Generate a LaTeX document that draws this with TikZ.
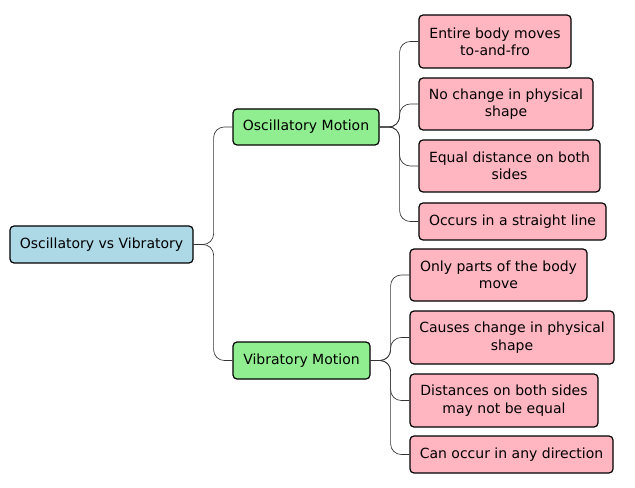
\documentclass[tikz,border=0pt]{standalone}
\usepackage{fontspec}
\setmainfont{DejaVu Sans}
\usepackage{tikz}
\usetikzlibrary{calc}
\definecolor{rootblue}{HTML}{ADD8E6}
\definecolor{midgreen}{HTML}{90EE90}
\definecolor{leafpink}{HTML}{FFB6C1}
\tikzset{
  box/.style={draw=black,rounded corners=3,line width=0.9pt,align=center,inner sep=0pt,font=\fontsize{10.5}{13}\selectfont},
  link/.style={draw=black!80,line width=0.5pt,rounded corners=8}
}
\def\leafnode{\node[box,fill=leafpink]}
\begin{document}
\begin{tikzpicture}[x=0.75pt,y=-0.75pt]
\useasboundingbox (0,0) rectangle (635,488);
% root and the two branches
\node[box,fill=rootblue,minimum width=137.25pt,minimum height=27.75pt] (root) at (101.5,244.5) {Oscillatory vs Vibratory};
\node[box,fill=midgreen,minimum width=109.5pt,minimum height=27pt] (osc) at (306,127) {Oscillatory Motion};
\node[box,fill=midgreen,minimum width=102.75pt,minimum height=27.75pt] (vib) at (301.5,360.5) {Vibratory Motion};
% leaves of the oscillatory branch
\leafnode[minimum width=114pt,minimum height=39.75pt] (o1) at (495,41.5) {Entire body moves\\to-and-fro};
\leafnode[minimum width=130.5pt,minimum height=39pt] (o2) at (506,104) {No change in physical\\shape};
\leafnode[minimum width=135.75pt,minimum height=39pt] (o3) at (509.5,166) {Equal distance on both\\sides};
\leafnode[minimum width=140.25pt,minimum height=27.75pt] (o4) at (512.5,221.5) {Occurs in a straight line};
% leaves of the vibratory branch
\leafnode[minimum width=132.75pt,minimum height=39pt] (v1) at (498.5,275) {Only parts of the body\\move};
\leafnode[minimum width=153pt,minimum height=39.75pt] (v2) at (512,337.5) {Causes change in physical\\shape};
\leafnode[minimum width=141pt,minimum height=39.75pt] (v3) at (504,400.5) {Distances on both sides\\may not be equal};
\leafnode[minimum width=152.25pt,minimum height=27.75pt] (v4) at (511.5,454.5) {Can occur in any direction};
% connectors
\foreach \c in {osc,vib} \draw[link] (root.east) -- ++(20,0) |- (\c.west);
\foreach \c in {o1,o2,o3,o4} \draw[link] (osc.east) -- ++(20,0) |- (\c.west);
\foreach \c in {v1,v2,v3,v4} \draw[link] (vib.east) -- ++(20,0) |- (\c.west);
\end{tikzpicture}
\end{document}
